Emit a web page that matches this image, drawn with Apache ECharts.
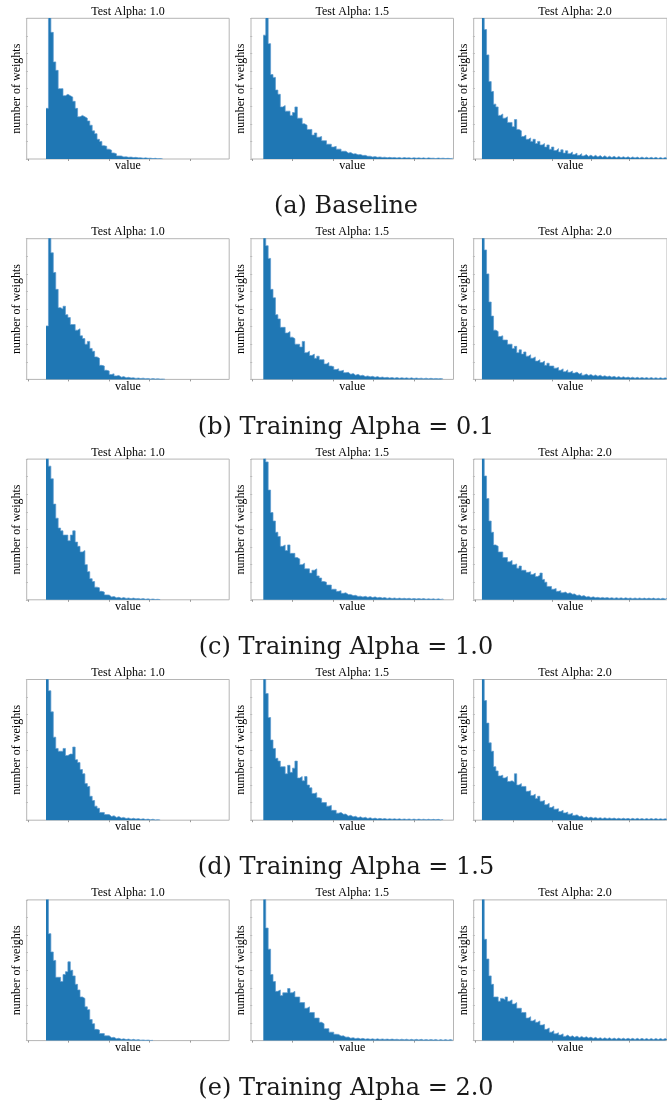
<!DOCTYPE html>
<html>
<head>
<meta charset="utf-8">
<script src="https://cdn.jsdelivr.net/npm/echarts@6.0.0/dist/echarts.min.js"></script>
<style>
html, body { margin: 0; padding: 0; background: #fff; }
#hist { width: 667px; height: 1106px; }
</style>
</head>
<body>
<div id="hist"></div>
<script>
// panel labels
const testAlphas = ['1.0', '1.5', '2.0'];
const captions = ['(a) Baseline', '(b) Training Alpha = 0.1', '(c) Training Alpha = 1.0',
  '(d) Training Alpha = 1.5', '(e) Training Alpha = 2.0'];
const xTicks = [0, 1, 2, 3, 4];

// histogram bins: first bin edge per test alpha, common bin width
const binStarts = [0.447, 0.274, 0.183];
const binWidth = 0.06;

// counts, as % of the panel height (peak bin runs off the top)
const baseline10 = [36, 115, 90, 69, 63, 50, 50, 45, 46, 45,
  44, 41, 36, 30, 31, 30, 29, 27, 24, 20,
  18, 14, 12.5, 9.5, 9, 7, 6.2, 4.3, 3.7, 2.2,
  2.2, 1.5, 1.6, 1.2, 1.4, 1, 1.2, 0.8, 0.9, 0.6,
  0.8, 0.5, 0.6, 0.3, 0.5, 0.2, 0.3, 0.1];
const baseline15 = [88, 110, 82, 60, 58, 49, 46, 37, 38, 34,
  34, 31, 33, 37, 29, 29, 25, 24, 21, 21,
  17, 18.5, 15.5, 16, 13, 13, 10.5, 10.5, 8.5, 9,
  7, 7, 5.5, 5.5, 4.2, 4.6, 3.6, 3.8, 3, 3.2,
  2.5, 2.6, 1.9, 2, 1.4, 1.7, 1.2, 1.5, 1.1, 1.3,
  0.9, 1.2, 0.8, 1.1, 0.7, 1.1, 0.6, 1, 0.7, 0.9,
  0.5, 0.9, 0.6, 0.8, 0.5, 0.8, 0.4, 0.8, 0.5, 0.6,
  0.3, 0.7, 0.4, 0.6, 0.3, 0.5, 0.3, 0.5];
const baseline20 = [112, 92, 74, 55, 48, 39, 37, 31, 32, 29,
  30, 26, 26, 23, 28, 21, 20, 16, 17, 14,
  15, 12.5, 14, 11, 12.5, 10, 11, 8.5, 10, 7,
  8.5, 6, 7.4, 5, 6.5, 4.2, 5.8, 3.8, 5, 3.2,
  4.2, 2.6, 3.8, 2.2, 3.2, 1.8, 2.8, 1.6, 2.6, 1.4,
  2.4, 1.2, 2.3, 1.1, 2, 1, 1.9, 0.9, 1.8, 0.9,
  1.6, 0.8, 1.6, 0.7, 1.5, 0.7, 1.4, 0.6, 1.4, 0.6,
  1.3, 0.5, 1.2, 0.5, 1.2, 0.4, 1.1, 0.4, 1.1, 0.4];

const train01_10 = [38, 110, 90, 76, 64, 51, 50, 52, 46, 44,
  39, 39, 35, 36, 31, 29, 25, 27, 22, 20,
  16, 15, 10, 9.5, 6.5, 6, 3.5, 4, 2.5, 2.8,
  1.6, 2, 1.2, 1.5, 1, 1.2, 0.7, 1, 0.6, 0.9,
  0.5, 0.7, 0.3, 0.6, 0.3, 0.5, 0.2, 0.3, 0.1];
const train01_15 = [105, 95, 86, 64, 58, 46, 43, 37, 37, 33,
  34, 30, 29, 25, 25, 23, 27, 19, 20, 17,
  18, 15, 16.5, 14, 14, 11, 12, 9.5, 9, 7,
  7.5, 6, 6.5, 4.8, 5, 3.6, 4.2, 3, 3.6, 2.6,
  3, 2, 2.5, 1.8, 2.2, 1.5, 2, 1.3, 1.7, 1.2,
  1.5, 1, 1.4, 0.9, 1.3, 0.8, 1.2, 0.8, 1.1, 0.7,
  1.1, 0.6, 1, 0.6, 0.9, 0.5, 0.9, 0.4, 0.8, 0.4,
  0.7, 0.4, 0.6, 0.3];
const train01_20 = [110, 92, 75, 55, 45, 35, 34, 30.5, 31, 28,
  28, 25, 25, 22, 23.5, 19, 21, 18, 19.5, 16.5,
  17.5, 15, 16, 13, 14, 12, 13, 10, 11.5, 9.5,
  9.5, 8, 8.5, 6.5, 7.5, 5.5, 6.8, 5, 6, 4.5,
  5.2, 3.8, 4.6, 3, 3.8, 2.8, 3.5, 2.5, 3.2, 2.2,
  3, 2, 2.6, 1.8, 2.4, 1.6, 2.2, 1.4, 2, 1.2,
  1.9, 1.1, 1.7, 1, 1.6, 0.9, 1.5, 0.8, 1.4, 0.8,
  1.3, 0.7, 1.3, 0.7, 1.2, 0.6, 1.2, 0.6, 1.1, 0.6];

const train10_10 = [120, 95, 86, 68, 58, 51, 49, 46, 46, 42,
  46, 49, 41, 38, 34, 35, 25, 20, 15, 13,
  9, 8.5, 6, 5.5, 3.5, 3.4, 2, 2.4, 1.4, 1.8,
  1.1, 1.6, 1, 1.3, 0.8, 1.2, 0.7, 1, 0.5, 0.9,
  0.4, 0.7, 0.3, 0.6, 0.2, 0.4, 0.1];
const train10_15 = [115, 98, 78, 62, 56, 48, 45, 38, 39, 35,
  39, 33, 33, 30, 29, 25, 26, 22, 22, 19,
  21, 22, 17, 15.5, 13, 12.5, 10.5, 10.5, 7.5, 7.5,
  6, 6.5, 4.6, 5, 3.8, 3.8, 3, 3.2, 2.4, 2.6,
  2, 2.5, 1.8, 2.3, 1.6, 2.1, 1.4, 1.8, 1.2, 1.6,
  1, 1.4, 0.9, 1.3, 0.8, 1.2, 0.8, 1.1, 0.7, 1.1,
  0.6, 1, 0.6, 0.9, 0.5, 0.9, 0.4, 0.8, 0.4, 0.7,
  0.3, 0.7, 0.3, 0.6];
const train10_20 = [115, 88, 72, 56, 48, 39, 38, 34, 34, 30,
  30, 27, 28, 25, 25.5, 22.5, 24, 21, 21, 19.5,
  20, 18, 19, 16.5, 17.5, 19, 14.5, 12.5, 9.5, 9.5,
  7.5, 8, 6, 6.5, 5, 5.5, 4.4, 5, 4, 4.2,
  3, 3.5, 2.5, 3, 2, 2.4, 1.6, 2.1, 1.5, 1.8,
  1.3, 1.7, 1.2, 1.6, 1.1, 1.5, 1, 1.5, 1, 1.4,
  0.9, 1.4, 0.9, 1.3, 0.8, 1.3, 0.8, 1.3, 0.7, 1.2,
  0.7, 1.2, 0.7, 1.2, 0.6, 1.1, 0.6, 1.1, 0.6, 1.1];

const train15_10 = [120, 92, 77, 59, 51, 49, 49, 51, 46, 47,
  47, 52, 43, 41, 36, 33, 26, 24, 17, 14,
  10, 8.5, 5.5, 5.5, 4, 4, 2.6, 3.2, 2, 2.6,
  1.6, 2, 1.2, 1.6, 0.9, 1.4, 0.8, 1.2, 0.6, 1,
  0.5, 0.8, 0.3, 0.7, 0.2, 0.4, 0.1];
const train15_15 = [115, 90, 73, 57, 51, 44, 42, 38, 38, 33,
  39, 34, 37, 42, 30, 31, 28, 31, 25, 23,
  19, 19.5, 16, 15.5, 12.5, 12.5, 10, 10.5, 7, 7,
  5, 5.5, 4.2, 4.4, 3, 3.5, 2.4, 2.8, 1.8, 2.4,
  1.5, 2.1, 1.2, 1.8, 1, 1.5, 0.9, 1.3, 0.8, 1.2,
  0.7, 1.1, 0.7, 1, 0.6, 1, 0.5, 0.9, 0.5, 0.9,
  0.4, 0.8, 0.4, 0.8, 0.4, 0.7, 0.3, 0.7, 0.3, 0.6,
  0.3, 0.6, 0.2, 0.5];
const train15_20 = [115, 85, 69, 55, 49, 38, 35, 31.5, 32, 30,
  31, 27.5, 28, 27, 33, 25, 26, 24, 24, 20.5,
  21, 17.5, 18.5, 15.5, 17, 13.5, 14, 11, 12, 9,
  10, 7.8, 8.2, 6.2, 7, 5.2, 5.8, 4.3, 5, 3.4,
  3.8, 2.6, 3, 1.8, 2.4, 1.5, 2.2, 1.4, 2, 1.2,
  1.8, 1.1, 1.7, 1.1, 1.6, 1, 1.5, 0.9, 1.4, 0.8,
  1.4, 0.8, 1.3, 0.7, 1.3, 0.7, 1.3, 0.7, 1.2, 0.6,
  1.2, 0.6, 1.2, 0.6, 1.2, 0.6, 1.1, 0.6, 1.1, 0.6];

const train20_10 = [120, 76, 63, 57, 45, 45, 42, 47, 49, 56,
  50, 46, 40, 36, 31, 30, 24, 22, 15, 12,
  8, 7.5, 5, 5, 3.4, 3.4, 2, 2.4, 1.3, 1.7,
  0.9, 1.3, 0.7, 1.1, 0.5, 0.9, 0.4, 0.7, 0.3, 0.5,
  0.2, 0.4, 0.1, 0.2];
const train20_15 = [120, 80, 65, 47, 42, 35, 36, 32, 34, 34,
  37, 34, 35, 31, 31, 27, 27, 23, 24, 20,
  20, 16, 16, 13, 12, 8.5, 8.5, 6, 6, 4.5,
  4.4, 3.2, 3.4, 2.4, 2.6, 1.7, 2.1, 1.4, 1.8, 1.2,
  1.6, 1, 1.4, 0.9, 1.3, 0.8, 1.3, 0.8, 1.2, 0.8,
  1.1, 0.7, 1.1, 0.7, 1, 0.6, 1, 0.6, 1, 0.5,
  0.9, 0.5, 0.9, 0.5, 0.9, 0.4, 0.8, 0.4, 0.8, 0.4,
  0.8, 0.3, 0.7, 0.3, 0.7, 0.3, 0.7, 0.3];
const train20_20 = [110, 72, 58, 46, 40, 31, 31, 28, 30, 29,
  31, 28, 29, 26, 27, 23, 23, 20, 20, 16,
  17, 14, 15, 13, 14, 11, 11.5, 8, 9, 6,
  7, 4.8, 5.6, 4, 4.8, 3, 3.9, 2.6, 3.4, 2.3,
  3.2, 2.1, 3, 2, 2.8, 1.8, 2.5, 1.5, 2.3, 1.3,
  2.1, 1.2, 2, 1.1, 2, 1, 1.8, 1, 1.8, 1,
  1.7, 0.9, 1.7, 0.9, 1.6, 0.8, 1.6, 0.8, 1.6, 0.8,
  1.5, 0.7, 1.5, 0.7, 1.5, 0.7, 1.5, 0.7, 1.5, 0.7];

const panels = [
  [baseline10, baseline15, baseline20],
  [train01_10, train01_15, train01_20],
  [train10_10, train10_15, train10_20],
  [train15_10, train15_15, train15_20],
  [train20_10, train20_15, train20_20]
];

const colLeft = [26.7, 251, 473.7];
const boxW = 202.5, boxH = 140.7;
const rowTop0 = 18.3, rowStep = 220.4;
const serif = '"Liberation Serif", "Times New Roman", serif';

const chart = echarts.init(document.getElementById('hist'));
const grid = [], xAxis = [], yAxis = [], series = [], graphic = [];

panels.forEach((row, r) => {
  const top = rowTop0 + r * rowStep;
  row.forEach((counts, c) => {
    const k = r * 3 + c;
    grid.push({
      left: colLeft[c], top: top, width: boxW, height: boxH,
      show: true, borderColor: '#b5b5b5', borderWidth: 1, backgroundColor: 'transparent'
    });
    xAxis.push({
      gridIndex: k, type: 'value', min: -0.03, max: 4.97,
      name: 'value', nameLocation: 'middle', nameGap: 1,
      nameTextStyle: { fontFamily: serif, fontSize: 12, color: '#000' },
      axisLine: { show: false },
      axisLabel: { show: false },
      splitLine: { show: false },
      axisTick: { show: true, customValues: xTicks, length: 2, lineStyle: { color: '#999' } }
    });
    yAxis.push({
      gridIndex: k, type: 'value', min: 0, max: 100, interval: 12.5,
      name: 'number of weights', nameLocation: 'middle', nameGap: 4,
      nameTextStyle: { fontFamily: serif, fontSize: 12, color: '#000' },
      axisLine: { show: false },
      axisLabel: { show: false },
      splitLine: { show: false },
      axisTick: { show: true, length: 2, lineStyle: { color: '#bbb' } }
    });
    const start = binStarts[c];
    const data = counts.map((v, i) => [start + i * binWidth, v]);
    data.push([start + counts.length * binWidth, 0]);
    series.push({
      type: 'line', xAxisIndex: k, yAxisIndex: k,
      data: data, step: 'end', symbol: 'none', clip: true,
      lineStyle: { width: 0.7, color: '#5b9bd0' },
      areaStyle: { color: '#1f77b4', opacity: 1 }
    });
    graphic.push({
      type: 'text', x: colLeft[c] + boxW / 2, y: top - 6.7,
      style: {
        text: 'Test Alpha: ' + testAlphas[c], fontFamily: serif, fontSize: 12, fill: '#000',
        textAlign: 'center', textVerticalAlign: 'middle'
      }
    });
  });
  graphic.push({
    type: 'text', x: 346, y: top + 188.7,
    style: {
      text: captions[r], fontFamily: '"DejaVu Serif", serif', fontSize: 24, fill: '#1a1a1a',
      textAlign: 'center', textVerticalAlign: 'middle'
    }
  });
});

chart.setOption({
  animation: false,
  grid: grid,
  xAxis: xAxis,
  yAxis: yAxis,
  series: series,
  graphic: graphic
});
</script>
</body>
</html>
